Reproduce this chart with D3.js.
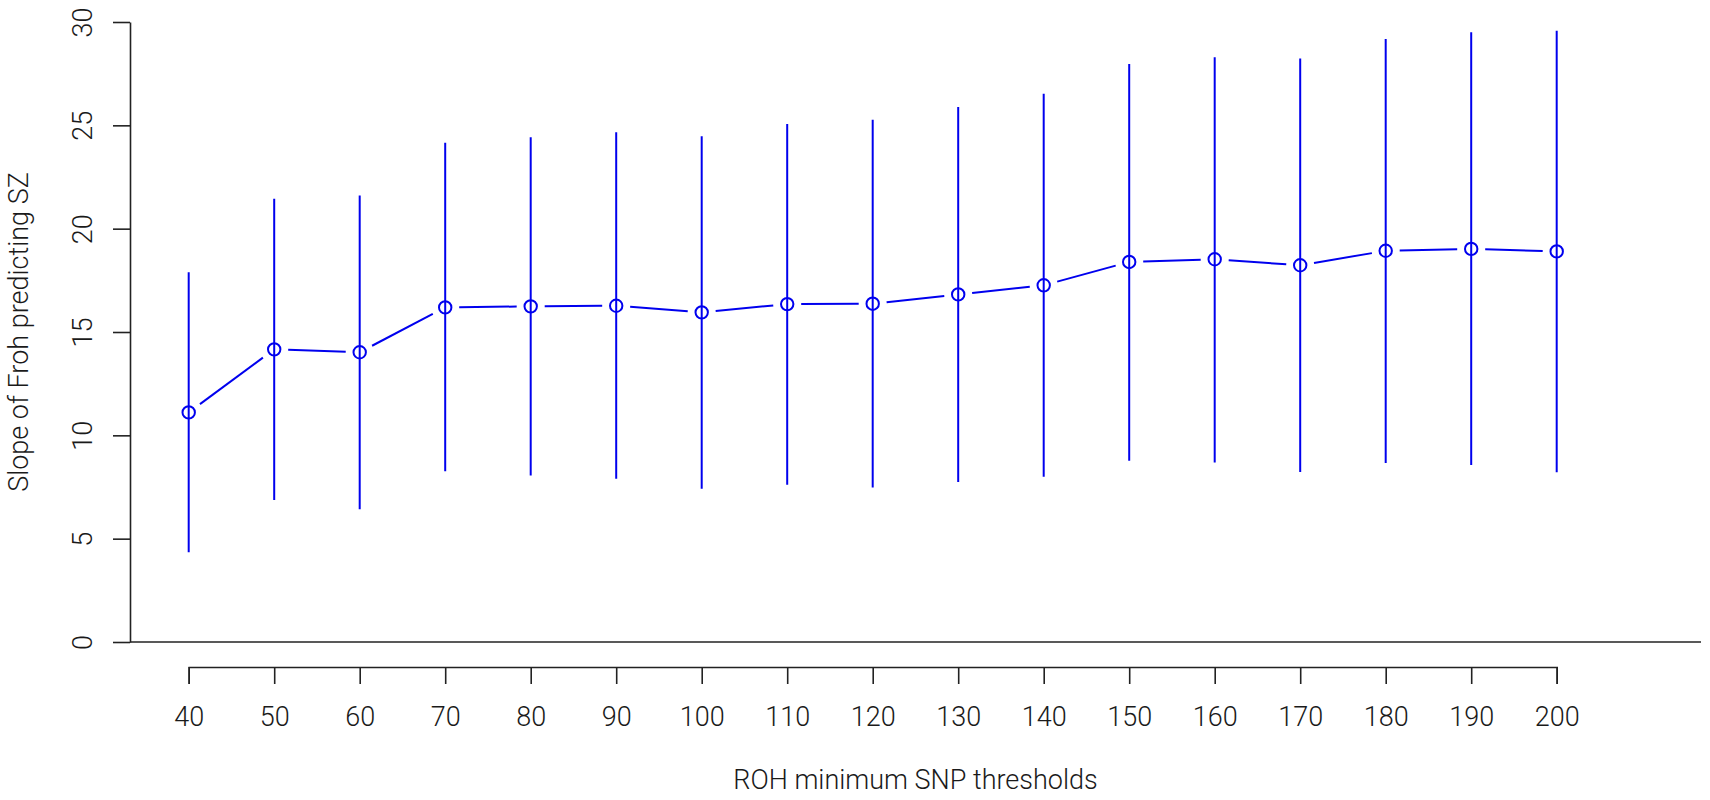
<!DOCTYPE html>
<html>
<head>
<meta charset="utf-8">
<script src="https://cdn.jsdelivr.net/npm/d3@7"></script>
<style>
  body { margin: 0; background: #fff; }
  svg { display: block; }
  text { font-family: Roboto, "Liberation Sans", sans-serif; font-weight: 300; fill: #1a1a1a; }
</style>
</head>
<body>
<svg width="1710" height="800"></svg>
<script>
let thresholds = [40, 50, 60, 70, 80, 90, 100, 110, 120, 130, 140, 150, 160, 170, 180, 190, 200];
let slope = [11.11, 14.16, 14.02, 16.19, 16.24, 16.27, 15.95, 16.35, 16.37, 16.82, 17.26, 18.39, 18.52, 18.23, 18.93, 19.02, 18.90];
let lower = [4.34, 6.87, 6.42, 8.26, 8.06, 7.90, 7.42, 7.61, 7.48, 7.74, 8.00, 8.77, 8.69, 8.23, 8.66, 8.56, 8.21];
let upper = [17.89, 21.45, 21.61, 24.16, 24.42, 24.66, 24.47, 25.06, 25.27, 25.89, 26.53, 27.97, 28.29, 28.23, 29.18, 29.50, 29.58];
let yTicks = [0, 5, 10, 15, 20, 25, 30];

let svg = d3.select("svg");
let x = d3.scaleLinear().domain([40, 200]).range([188.7, 1556.7]);
let y = d3.scaleLinear().domain([0, 30]).range([642, 22]);
let plotLeft = 130, plotRight = 1701;
let blue = "#0000ee";

let points = thresholds.map(function(t, i) {
    return {t: t, m: slope[i], lo: lower[i], hi: upper[i]};
});

// horizontal line at zero across the plot region
svg.append("line")
    .attr("x1", plotLeft).attr("x2", plotRight)
    .attr("y1", y(0)).attr("y2", y(0))
    .attr("stroke", "#222").attr("stroke-width", 1.6);

// y axis
let gy = svg.append("g")
    .attr("transform", "translate(" + plotLeft + ",0)")
    .call(d3.axisLeft(y).tickValues(yTicks).tickSize(17).tickSizeOuter(0));
gy.select(".domain").attr("stroke", "#222").attr("stroke-width", 1.6);
gy.selectAll(".tick line").attr("stroke", "#222").attr("stroke-width", 1.6);
gy.selectAll(".tick text")
    .attr("x", null).attr("dy", null)
    .attr("transform", "translate(-38,0) rotate(-90)")
    .attr("text-anchor", "middle")
    .style("font-size", "27px");

// x axis
let gx = svg.append("g")
    .attr("transform", "translate(0,667)")
    .call(d3.axisBottom(x).tickValues(thresholds).tickFormat(d3.format("d")).tickSize(17).tickSizeOuter(17));
gx.select(".domain").attr("stroke", "#222").attr("stroke-width", 1.6);
gx.selectAll(".tick line").attr("stroke", "#222").attr("stroke-width", 1.6);
gx.selectAll(".tick text")
    .attr("y", 59).attr("dy", null)
    .style("font-size", "27px");

gy.selectAll("text").attr("fill", "#1a1a1a");
gx.selectAll("text").attr("fill", "#1a1a1a");

// error bars
svg.append("g").selectAll("line").data(points).enter().append("line")
    .attr("x1", function(d) {return x(d.t)})
    .attr("x2", function(d) {return x(d.t)})
    .attr("y1", function(d) {return y(d.lo)})
    .attr("y2", function(d) {return y(d.hi)})
    .attr("stroke", blue).attr("stroke-width", 2);

// connecting segments with gaps round the points (type = "b")
let gap = 14;
let segs = [];
for (let i = 0; i < points.length - 1; i++) {
    let x0 = x(points[i].t), y0 = y(points[i].m);
    let x1 = x(points[i + 1].t), y1 = y(points[i + 1].m);
    let len = Math.hypot(x1 - x0, y1 - y0);
    if (len <= 2 * gap) continue;
    let ux = (x1 - x0) / len, uy = (y1 - y0) / len;
    segs.push([x0 + ux * gap, y0 + uy * gap, x1 - ux * gap, y1 - uy * gap]);
}
svg.append("g").selectAll("line").data(segs).enter().append("line")
    .attr("x1", function(d) {return d[0]})
    .attr("y1", function(d) {return d[1]})
    .attr("x2", function(d) {return d[2]})
    .attr("y2", function(d) {return d[3]})
    .attr("stroke", blue).attr("stroke-width", 2);

// open circles
svg.append("g").selectAll("circle").data(points).enter().append("circle")
    .attr("cx", function(d) {return x(d.t)})
    .attr("cy", function(d) {return y(d.m)})
    .attr("r", 6.2)
    .attr("fill", "none")
    .attr("stroke", blue).attr("stroke-width", 2);

// axis titles
svg.append("text")
    .attr("x", (plotLeft + plotRight) / 2).attr("y", 789)
    .attr("text-anchor", "middle")
    .style("font-size", "27px")
    .text("ROH minimum SNP thresholds");

svg.append("text")
    .attr("transform", "translate(28," + (y(0) + y(30)) / 2 + ") rotate(-90)")
    .attr("text-anchor", "middle")
    .style("font-size", "27px")
    .text("Slope of Froh predicting SZ");
</script>
</body>
</html>
